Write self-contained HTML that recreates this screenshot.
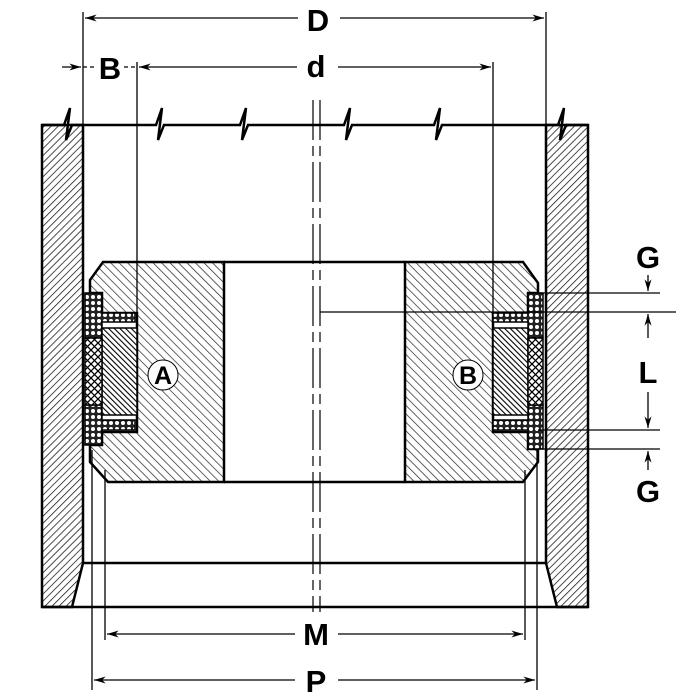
<!DOCTYPE html>
<html><head><meta charset="utf-8"><style>
html,body{margin:0;padding:0;background:#fff;width:700px;height:700px;overflow:hidden}
text{font-family:"Liberation Sans",Arial,sans-serif;font-weight:bold}
</style></head><body>
<svg width="700" height="700" viewBox="0 0 700 700" xmlns="http://www.w3.org/2000/svg">
<defs>
<pattern id="hw" width="5" height="5" patternUnits="userSpaceOnUse" patternTransform="rotate(45)">
<rect width="5" height="5" fill="#fff"/><line x1="0" y1="0" x2="0" y2="5" stroke="#111" stroke-width="1.5"/></pattern>
<pattern id="hp" width="6" height="6" patternUnits="userSpaceOnUse" patternTransform="rotate(-45)">
<rect width="6" height="6" fill="#fff"/><line x1="0" y1="0" x2="0" y2="6" stroke="#222" stroke-width="1.4"/></pattern>
<pattern id="hd" width="4" height="4" patternUnits="userSpaceOnUse" patternTransform="rotate(-45)">
<rect width="4" height="4" fill="#fff"/><line x1="0" y1="0" x2="0" y2="4" stroke="#000" stroke-width="2.2"/></pattern>
<pattern id="dots" width="6" height="6" patternUnits="userSpaceOnUse">
<rect width="6" height="6" fill="#222"/><circle cx="3" cy="3" r="2" fill="#fff"/></pattern>
<pattern id="cross" width="7" height="7" patternUnits="userSpaceOnUse">
<rect width="7" height="7" fill="#fff"/><path d="M0 0L7 7M7 0L0 7" stroke="#000" stroke-width="1.3"/></pattern>
<marker id="ar" viewBox="0 0 10 6" refX="10" refY="3" markerWidth="16" markerHeight="7" markerUnits="userSpaceOnUse" orient="auto"><path d="M0 0L10 3L0 6L3 3Z" fill="#000"/></marker>
</defs>
<g stroke="#000" stroke-width="2.5">
<path d="M42 125H83V563L72 607H42Z" fill="url(#hw)"/>
<path d="M546 125H588V607H557L546 563Z" fill="url(#hw)"/>
<line x1="42" y1="607" x2="588" y2="607"/>
<line x1="83" y1="563" x2="546" y2="563"/>
<path d="M42 125H64L70 108L66 140L72 125H156L162 108L158 140L164 125H240L246 108L242 140L248 125H344L350 108L346 140L352 125H434L440 108L436 140L442 125H558L564 108L560 140L566 125H588" fill="none"/>
<path d="M103 262H224V482H108L90 462V445H102V432H137V313H102V293H90V280Z" fill="url(#hp)"/>
<path d="M405 262H523L538 283V293H528V313H493V432H528V449H538V462L523 482H405Z" fill="url(#hp)"/>
<line x1="224" y1="262" x2="405" y2="262"/>
<line x1="224" y1="482" x2="405" y2="482"/>
</g>
<g stroke="#000" stroke-width="1.5">
<path d="M85 293H102V313H135V322H102V338H85Z" fill="url(#dots)"/>
<path d="M85 405H102V420H135V430H102V445H85Z" fill="url(#dots)"/>
<rect x="102" y="328" width="35" height="87" fill="url(#hd)"/>
<rect x="85" y="338" width="17" height="67" fill="url(#cross)"/>
<path d="M528 293H543V338H528V322H493V313H528Z" fill="url(#dots)"/>
<path d="M528 405H543V449H528V430H493V420H528Z" fill="url(#dots)"/>
<rect x="493" y="328" width="35" height="87" fill="url(#hd)"/>
<rect x="528" y="338" width="15" height="67" fill="url(#cross)"/>
</g>
<g stroke="#000" stroke-width="1"><circle cx="163" cy="375" r="15" fill="#fff"/><circle cx="468" cy="375" r="15" fill="#fff"/></g>
<text x="163" y="384" font-size="25" text-anchor="middle">A</text>
<text x="468" y="384" font-size="25" text-anchor="middle">B</text>
<g stroke="#000" stroke-width="1.2" stroke-dasharray="40 6 10 6">
<line x1="313" y1="100" x2="313" y2="612"/><line x1="320" y1="100" x2="320" y2="612"/></g>
<g stroke="#000" stroke-width="1.3" fill="none">
<line x1="83" y1="12" x2="83" y2="125"/><line x1="546" y1="12" x2="546" y2="125"/>
<line x1="298" y1="18" x2="85" y2="18" marker-end="url(#ar)"/><line x1="340" y1="18" x2="544" y2="18" marker-end="url(#ar)"/>
<line x1="137" y1="62" x2="137" y2="313"/><line x1="493" y1="62" x2="493" y2="313"/>
<line x1="297" y1="67" x2="139" y2="67" marker-end="url(#ar)"/><line x1="338" y1="67" x2="491" y2="67" marker-end="url(#ar)"/>
<line x1="62" y1="67" x2="81" y2="67" marker-end="url(#ar)"/>
<line x1="83" y1="67" x2="96" y2="67" stroke-dasharray="4 3"/><line x1="124" y1="67" x2="137" y2="67" stroke-dasharray="4 3"/>
<line x1="320" y1="312" x2="676" y2="312"/>
<line x1="538" y1="293" x2="660" y2="293"/>
<line x1="538" y1="430" x2="660" y2="430"/>
<line x1="538" y1="449" x2="660" y2="449"/>
<line x1="648" y1="275" x2="648" y2="291" marker-end="url(#ar)"/>
<line x1="648" y1="338" x2="648" y2="314" marker-end="url(#ar)"/>
<line x1="648" y1="392" x2="648" y2="428" marker-end="url(#ar)"/>
<line x1="648" y1="470" x2="648" y2="451" marker-end="url(#ar)"/>
<line x1="105" y1="470" x2="105" y2="640"/><line x1="525" y1="470" x2="525" y2="640"/>
<line x1="92" y1="450" x2="92" y2="690"/><line x1="537" y1="450" x2="537" y2="690"/>
<line x1="295" y1="634" x2="107" y2="634" marker-end="url(#ar)"/><line x1="338" y1="634" x2="523" y2="634" marker-end="url(#ar)"/>
<line x1="295" y1="680" x2="94" y2="680" marker-end="url(#ar)"/><line x1="338" y1="680" x2="535" y2="680" marker-end="url(#ar)"/>
</g>
<g font-size="31" text-anchor="middle">
<text x="318" y="31">D</text>
<text x="316" y="77">d</text>
<text x="110" y="79">B</text>
<text x="648" y="268">G</text>
<text x="648" y="383">L</text>
<text x="648" y="502">G</text>
<text x="316" y="645">M</text>
<text x="316" y="692">P</text>
</g>
</svg>
</body></html>
